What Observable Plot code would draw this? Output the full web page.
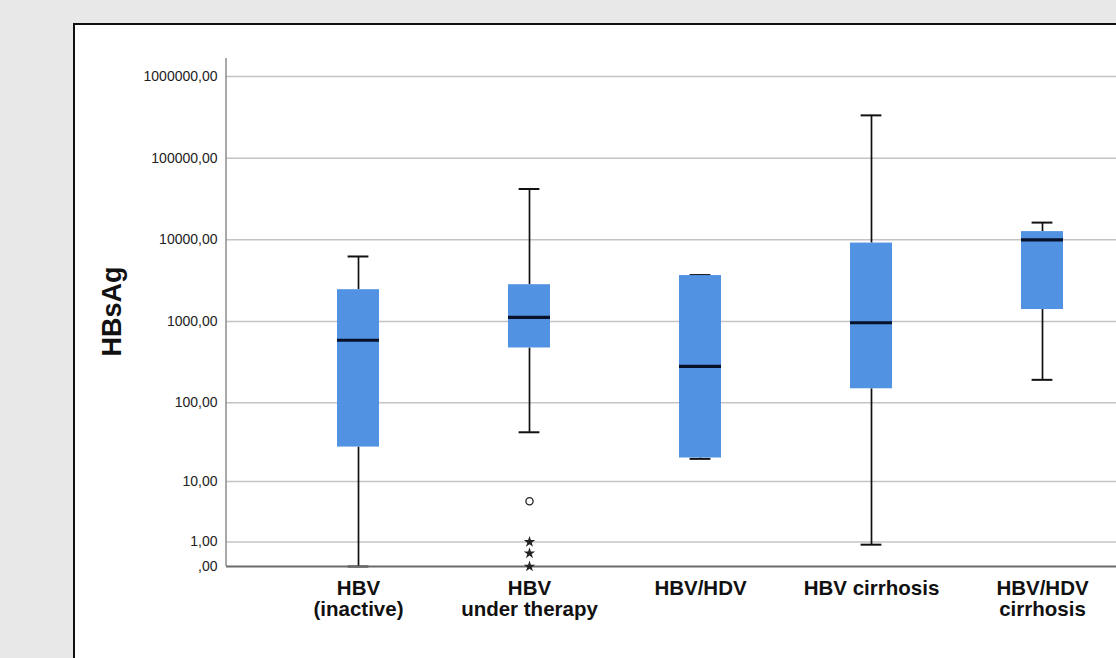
<!DOCTYPE html>
<html>
<head>
<meta charset="utf-8">
<script src="https://cdn.jsdelivr.net/npm/d3@7"></script>
<script src="https://cdn.jsdelivr.net/npm/@observablehq/plot@0.6"></script>
<style>
  html, body { margin: 0; padding: 0; width: 1116px; height: 658px; overflow: hidden; background: #e8e8e8; }
  #panel { position: absolute; left: 73px; top: 23px; width: 1100px; height: 700px; background: #fff; border: 2px solid #111; box-sizing: border-box; }
  #chart { position: absolute; left: 0; top: 0; z-index: 1; }
  #chart svg { max-width: none !important; background: transparent !important; }
</style>
</head>
<body>
<div id="panel"></div>
<div id="chart"></div>
<script>
// ---- data ----
const categories = ["inactive", "therapy", "hdv", "cirrhosis", "hdvcirrhosis"];
const categoryLabels = ["HBV\n(inactive)", "HBV\nunder therapy", "HBV/HDV", "HBV cirrhosis", "HBV/HDV\ncirrhosis"];
const whiskerLow  = [0,    43,    19.8,  0.85,   192];
const q1          = [28,   473,   20.3,  149,    1400];
const median      = [588,  1120,  281,   964,    10000];
const q3          = [2450, 2820,  3650,  9120,   12600];
const whiskerHigh = [6250, 41900, 3700,  334000, 16250];
const outlierCategory = ["therapy"];
const outlierValue    = [5.3];
const extremeCategory = ["therapy", "therapy", "therapy"];
const extremeValue    = [1, 0.45, 0];
const yTicks = [0, 1, 10, 100, 1000, 10000, 100000, 1000000];
const yTitle = "HBsAg";

// ---- build tables ----
const boxes = categories.map((c, i) => ({cat: c, lo: whiskerLow[i], q1: q1[i], med: median[i], q3: q3[i], hi: whiskerHigh[i]}));
const outliers = outlierCategory.map((c, i) => ({cat: c, v: outlierValue[i]}));
const extremes = extremeCategory.map((c, i) => ({cat: c, v: extremeValue[i]}));
const labelOf = Object.fromEntries(categories.map((c, i) => [c, categoryLabels[i]]));
const fmt = d => d === 0 ? ",00" : d.toFixed(2).replace(".", ",");

const yAxisLine = (index, scales, values, dims) => {
  const l = d3.create("svg:line")
    .attr("x1", dims.marginLeft).attr("x2", dims.marginLeft)
    .attr("y1", dims.marginTop).attr("y2", dims.height - dims.marginBottom)
    .attr("stroke", "#8c8c8c").attr("stroke-width", 1.5);
  return l.node();
};

const chart = Plot.plot({
  width: 1200,
  height: 658,
  marginLeft: 226,
  marginRight: 26,
  marginTop: 58,
  marginBottom: 92,
  style: {background: "transparent", fontFamily: "'Liberation Sans', Arial, sans-serif", color: "#222", overflow: "visible"},
  x: {type: "band", domain: categories, paddingInner: 0.752, paddingOuter: 0.64},
  y: {type: "symlog", constant: 1, domain: [0, 1660000]},
  marks: [
    Plot.ruleY(yTicks.filter(d => d > 0), {stroke: "#c4c4c4", strokeWidth: 1.5}),
    Plot.ruleX(boxes, {x: "cat", y1: "lo", y2: "q1", stroke: "#111", strokeWidth: 1.7}),
    Plot.ruleX(boxes, {x: "cat", y1: "q3", y2: "hi", stroke: "#111", strokeWidth: 1.7}),
    Plot.tickY(boxes, {x: "cat", y: "lo", insetLeft: 10.6, insetRight: 10.6, stroke: "#111", strokeWidth: 2}),
    Plot.tickY(boxes, {x: "cat", y: "hi", insetLeft: 10.6, insetRight: 10.6, stroke: "#111", strokeWidth: 2}),
    Plot.barY(boxes, {x: "cat", y1: "q1", y2: "q3", fill: "#5292e2"}),
    Plot.tickY(boxes, {x: "cat", y: "med", stroke: "#08112a", strokeWidth: 3.2}),
    Plot.ruleY([0], {stroke: "#6a6a6a", strokeWidth: 2}),
    yAxisLine,
    Plot.dot(outliers, {x: "cat", y: "v", r: 3.6, stroke: "#222", fill: "white", strokeWidth: 1.3}),
    Plot.dot(extremes, {x: "cat", y: "v", symbol: "star", r: 3.6, fill: "#222", stroke: "none"}),
    Plot.axisY({ticks: yTicks, tickFormat: fmt, tickSize: 0, tickPadding: 9, fontSize: 14, label: null}),
    Plot.axisX({tickFormat: d => labelOf[d], tickSize: 0, tickPadding: 13, fontSize: 20.5, fontWeight: "bold", lineHeight: 1.05, label: null, fill: "#111"}),
    Plot.text([yTitle], {frameAnchor: "left", textAnchor: "middle", dx: -114, dy: -1, rotate: -90, fontSize: 27, fontWeight: "bold", fill: "#111"})
  ]
});
document.getElementById("chart").append(chart);
</script>
</body>
</html>
